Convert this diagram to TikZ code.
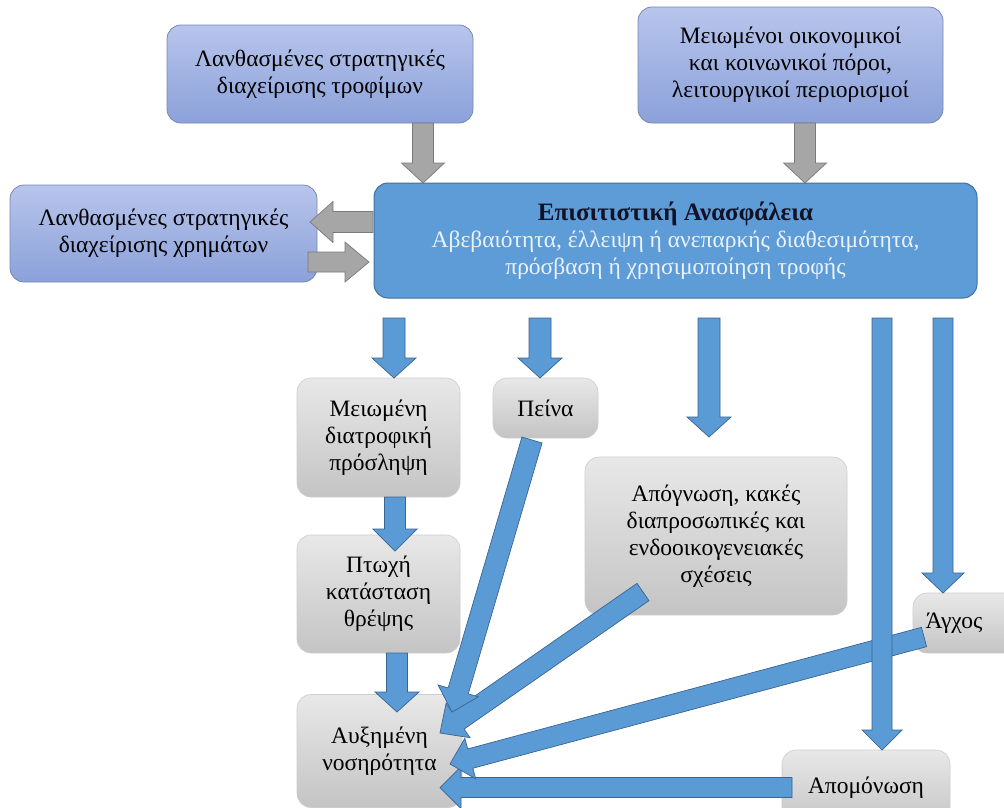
\documentclass[tikz,border=0pt]{standalone}
\usepackage{fontspec}
\setmainfont{Liberation Serif}
\usetikzlibrary{calc}
\definecolor{lavtop}{RGB}{184,197,236}
\definecolor{lavbot}{RGB}{139,161,217}
\definecolor{lavline}{RGB}{118,136,178}
\definecolor{mainfill}{RGB}{93,156,214}
\definecolor{mainline}{RGB}{66,112,156}
\definecolor{greytop}{RGB}{232,232,232}
\definecolor{greybot}{RGB}{196,196,196}
\definecolor{greyline}{RGB}{205,205,205}
\definecolor{arrfill}{RGB}{91,155,213}
\definecolor{arrline}{RGB}{58,100,146}
\definecolor{garrfill}{RGB}{166,166,166}
\definecolor{garrline}{RGB}{122,122,122}
\definecolor{titletext}{RGB}{18,18,38}
\definecolor{lighttext}{RGB}{236,242,250}
\tikzset{
  boxtext/.style={align=center, inner sep=0pt, font=\fontsize{23.5}{27}\selectfont},
  lavbox/.style={boxtext, rounded corners=14pt, draw=lavline, line width=0.8pt, top color=lavtop, bottom color=lavbot},
  mainbox/.style={boxtext, rounded corners=14pt, draw=mainline, line width=1pt, fill=mainfill},
  greybox/.style={boxtext, rounded corners=14pt, draw=greyline, line width=0.6pt, top color=greytop, bottom color=greybot},
  bluearrow/.style={fill=arrfill, draw=arrline, line width=0.7pt, line join=miter},
  greyarrow/.style={fill=garrfill, draw=garrline, line width=0.7pt, line join=miter}
}
% #1 style, #2 start, #3 end, #4 half shaft width, #5 half head width, #6 head length
\newcommand{\blockarrow}[6]{%
  \coordinate (bah) at ($(#3)!#6!(#2)$);
  \draw[#1] ($(#2)!#4!-90:(#3)$) -- ($(bah)!#4!-90:(#3)$) -- ($(bah)!#5!-90:(#3)$) -- (#3)
    -- ($(bah)!#5!90:(#3)$) -- ($(bah)!#4!90:(#3)$) -- ($(#2)!#4!90:(#3)$) -- cycle;
}
\begin{document}
\begin{tikzpicture}[x=1pt,y=-1pt]
\useasboundingbox (0,0) rectangle (1004,807);
\fill[white] (0,0) rectangle (1004,807);

% boxes
\node[lavbox, minimum width=306pt, minimum height=98pt] (top1) at (320,74)
  {Λανθασμένες στρατηγικές\\διαχείρισης τροφίμων};
\node[lavbox, minimum width=305pt, minimum height=116pt] (top2) at (790.5,65)
  {Μειωμένοι οικονομικοί\\και κοινωνικοί πόροι,\\λειτουργικοί περιορισμοί};
\node[lavbox, minimum width=307pt, minimum height=97pt] (money) at (163.5,233.5)
  {Λανθασμένες στρατηγικές\\διαχείρισης χρημάτων};
\node[mainbox, minimum width=603pt, minimum height=115pt] (main) at (675.5,240.5)
  {\textcolor{titletext}{\fontsize{25}{27}\selectfont\bfseries Επισιτιστική Ανασφάλεια}\\
   \textcolor{lighttext}{Αβεβαιότητα, έλλειψη ή ανεπαρκής διαθεσιμότητα,}\\
   \textcolor{lighttext}{πρόσβαση ή χρησιμοποίηση τροφής}};
\node[greybox, minimum width=163pt, minimum height=119pt] (intake) at (378.5,437.5)
  {Μειωμένη\\διατροφική\\πρόσληψη};
\node[greybox, minimum width=105pt, minimum height=60pt] (hunger) at (545.5,408)
  {Πείνα};
\node[greybox, minimum width=262pt, minimum height=158pt] (despair) at (716,536)
  {Απόγνωση, κακές\\διαπροσωπικές και\\ενδοοικογενειακές\\σχέσεις};
\node[greybox, minimum width=163pt, minimum height=118pt] (poor) at (378.5,594)
  {Πτωχή\\κατάσταση\\θρέψης};
\node[greybox, minimum width=165pt, minimum height=113pt] (morb) at (379.5,751)
  {Αυξημένη\\νοσηρότητα};
\node[greybox, minimum width=110pt, minimum height=60pt] (stress) at (968,623)
  {Άγχος\hspace*{28pt}};
\node[greybox, minimum width=168pt, minimum height=76pt] (isol) at (866,788)
  {Απομόνωση};

% arrow end points
\coordinate (g1s) at (423,123);  \coordinate (g1e) at (423,183);
\coordinate (g2s) at (805,123);  \coordinate (g2e) at (805,183);
\coordinate (g3s) at (373,222);  \coordinate (g3e) at (310,222);
\coordinate (g4s) at (308,262);  \coordinate (g4e) at (369,262);
\coordinate (b1s) at (394,318);  \coordinate (b1e) at (394,378);
\coordinate (b2s) at (540,318);  \coordinate (b2e) at (540,378);
\coordinate (b3s) at (709,318);  \coordinate (b3e) at (709,437);
\coordinate (b4s) at (882,318);  \coordinate (b4e) at (882,750);
\coordinate (b5s) at (943,318);  \coordinate (b5e) at (943,593);
\coordinate (b6s) at (395,497);  \coordinate (b6e) at (395,551);
\coordinate (b7s) at (397,653);  \coordinate (b7e) at (397,712);
\coordinate (b8s) at (532,440);  \coordinate (b8e) at (452,712);
\coordinate (b9s) at (643,592);  \coordinate (b9e) at (440,733);
\coordinate (b10s) at (924,637); \coordinate (b10e) at (450,764);
\coordinate (b11s) at (792,787.5); \coordinate (b11e) at (440,787.5);

% grey arrows
\blockarrow{greyarrow}{g1s}{g1e}{10.5pt}{21.5pt}{20pt}
\blockarrow{greyarrow}{g2s}{g2e}{10.5pt}{21.5pt}{20pt}
\blockarrow{greyarrow}{g3s}{g3e}{10.5pt}{20.5pt}{23pt}
\blockarrow{greyarrow}{g4s}{g4e}{10pt}{20pt}{24pt}

% blue arrows
\blockarrow{bluearrow}{b1s}{b1e}{11pt}{22pt}{20pt}
\blockarrow{bluearrow}{b2s}{b2e}{11pt}{22pt}{20pt}
\blockarrow{bluearrow}{b3s}{b3e}{11pt}{22pt}{20pt}
\blockarrow{bluearrow}{b5s}{b5e}{10pt}{21pt}{20pt}
\blockarrow{bluearrow}{b6s}{b6e}{10.5pt}{22pt}{22pt}
\blockarrow{bluearrow}{b7s}{b7e}{10.5pt}{22pt}{20pt}
\blockarrow{bluearrow}{b11s}{b11e}{10pt}{21pt}{21pt}
\blockarrow{bluearrow}{b10s}{b10e}{10pt}{21pt}{21pt}
\blockarrow{bluearrow}{b9s}{b9e}{10.5pt}{21pt}{22pt}
\blockarrow{bluearrow}{b8s}{b8e}{10.5pt}{21pt}{22pt}
\blockarrow{bluearrow}{b4s}{b4e}{10pt}{20pt}{20pt}
\end{tikzpicture}
\end{document}
